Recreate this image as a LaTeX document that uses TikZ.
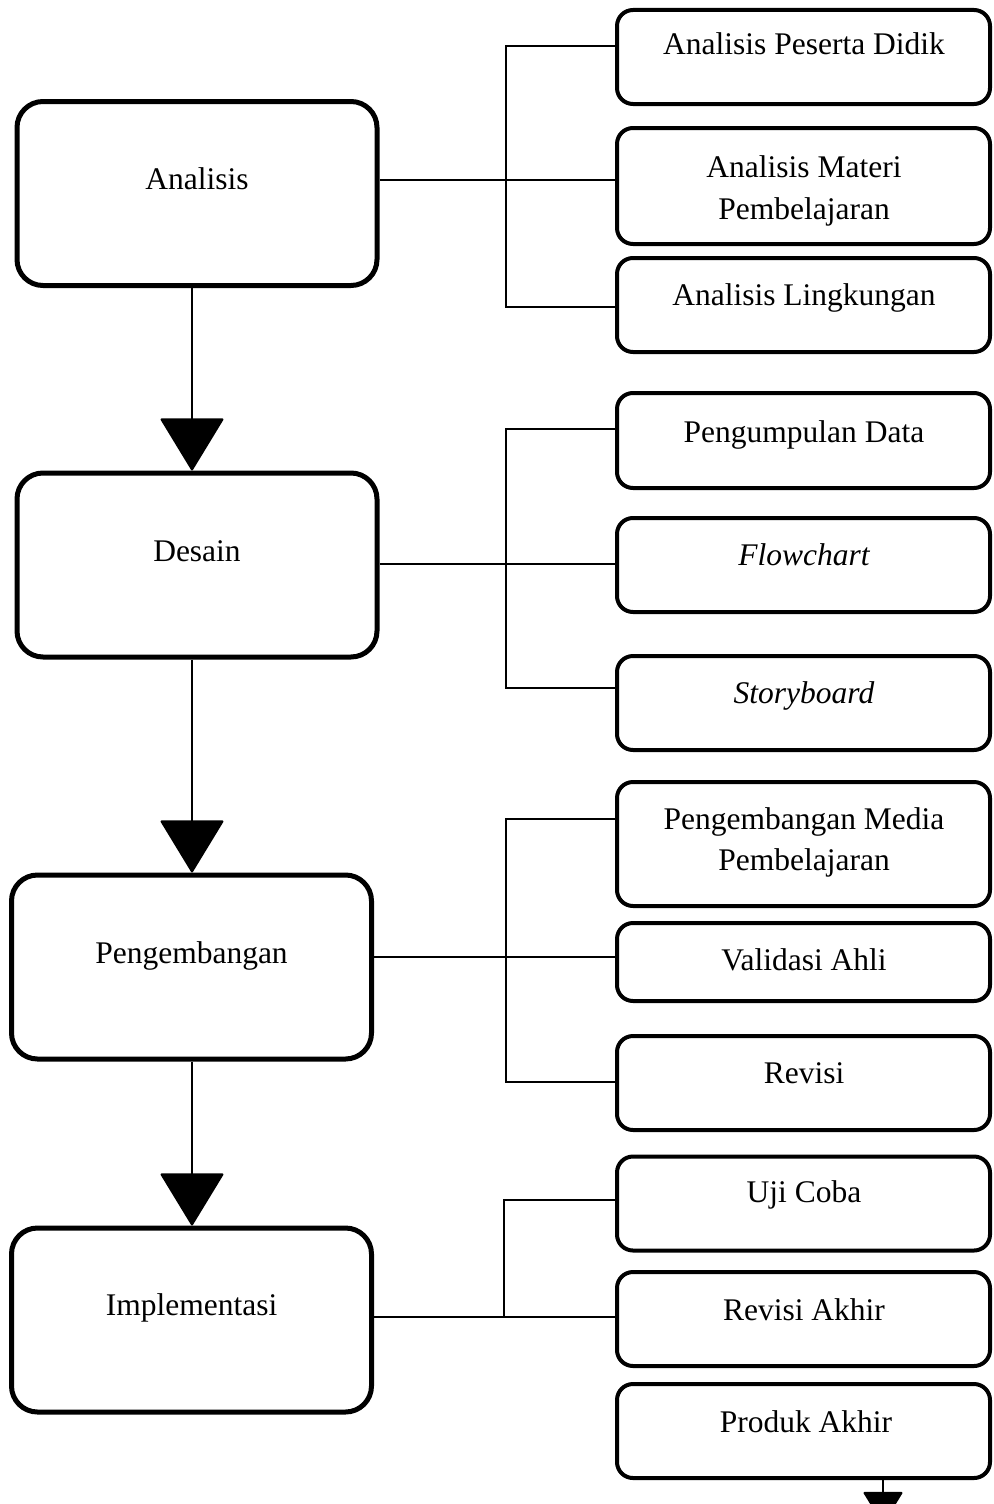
\documentclass[tikz,border=0pt]{standalone}
\usepackage{fontspec}
\setmainfont{Liberation Serif}
\usetikzlibrary{arrows.meta,positioning,calc}
\begin{document}
\begin{tikzpicture}[x=1pt,y=-1pt,
  mainbox/.style={draw, line width=5pt, rounded corners=26pt, minimum width=360pt, minimum height=184pt, inner sep=0pt},
  subbox/.style={draw, line width=4pt, rounded corners=16pt, minimum width=373pt, inner sep=0pt},
  lbl/.style={font=\fontsize{31.5}{42}\selectfont, anchor=base, align=center, inner sep=0pt},
  conn/.style={line width=2pt},
  flow/.style={line width=2pt, -{Triangle[width=64pt,length=53pt,round]}},
  flowsmall/.style={line width=2pt, -{Triangle[width=40pt,length=33pt,round]}}
]
\useasboundingbox (0,0) rectangle (993,1504);

% main boxes
\node[mainbox] (A) at (197,193.5) {};
\node[mainbox] (D) at (197,565) {};
\node[mainbox] (P) at (191.5,967) {};
\node[mainbox] (I) at (191.5,1320) {};
\node[lbl] (tA) at (197,189) {Analisis};
\node[lbl] (tD) at (197,561) {Desain};
\node[lbl] (tP) at (191.5,963) {Pengembangan};
\node[lbl] (tI) at (191.5,1315) {Implementasi};

% sub boxes
\node[subbox, minimum height=94pt]  (R1)  at (803.5,57) {};
\node[subbox, minimum height=116pt] (R2)  at (803.5,186) {};
\node[subbox, minimum height=94pt]  (R3)  at (803.5,305) {};
\node[subbox, minimum height=95pt]  (R4)  at (803.5,440.5) {};
\node[subbox, minimum height=94pt]  (R5)  at (803.5,565) {};
\node[subbox, minimum height=94pt]  (R6)  at (803.5,703) {};
\node[subbox, minimum height=124pt] (R7)  at (803.5,844) {};
\node[subbox, minimum height=78pt]  (R8)  at (803.5,962) {};
\node[subbox, minimum height=94pt]  (R9)  at (803.5,1083) {};
\node[subbox, minimum height=94pt]  (R10) at (803.5,1203.5) {};
\node[subbox, minimum height=94pt]  (R11) at (803.5,1319) {};
\node[subbox, minimum height=94pt]  (R12) at (803.5,1431) {};

\node[lbl] (t1)  at (804,55) {Analisis Peserta Didik};
\node[lbl] (t2)  at (804,219) {Analisis Materi\\Pembelajaran};
\node[lbl] (t3)  at (804,305) {Analisis Lingkungan};
\node[lbl] (t4)  at (804,442) {Pengumpulan Data};
\node[lbl] (t5)  at (804,565) {\itshape Flowchart};
\node[lbl] (t6)  at (804,703) {\itshape Storyboard};
\node[lbl, font=\fontsize{31.5}{41}\selectfont] (t7)  at (804,870) {Pengembangan Media\\Pembelajaran};
\node[lbl] (t8)  at (804,970) {Validasi Ahli};
\node[lbl] (t9)  at (804,1083) {Revisi};
\node[lbl] (t10) at (804,1202) {Uji Coba};
\node[lbl] (t11) at (804,1320) {Revisi Akhir};
\node[lbl] (t12) at (806,1432) {Produk Akhir};

% bracket coordinates
\coordinate (a0) at (506,180);
\coordinate (a1) at (506,46);
\coordinate (a3) at (506,307);
\coordinate (d0) at (506,564);
\coordinate (d1) at (506,429);
\coordinate (d3) at (506,688);
\coordinate (p0) at (506,957);
\coordinate (p1) at (506,819);
\coordinate (p3) at (506,1082);
\coordinate (i0) at (504,1317);
\coordinate (i1) at (504,1200);

% Analisis connectors
\draw[conn] (A.east |- a0) -- (R2.west |- a0);
\draw[conn] (R1.west |- a1) -- (a1) -- (a3) -- (R3.west |- a3);
% Desain connectors
\draw[conn] (D.east |- d0) -- (R5.west |- d0);
\draw[conn] (R4.west |- d1) -- (d1) -- (d3) -- (R6.west |- d3);
% Pengembangan connectors
\draw[conn] (P.east |- p0) -- (R8.west |- p0);
\draw[conn] (R7.west |- p1) -- (p1) -- (p3) -- (R9.west |- p3);
% Implementasi connectors
\draw[conn] (I.east |- i0) -- (R11.west |- i0);
\draw[conn] (R10.west |- i1) -- (i1) -- (i0);

% flow arrows
\draw[flow] ([xshift=-5pt]A.south) -- ([xshift=-5pt]A.south |- D.north);
\draw[flow] ([xshift=-5pt]D.south) -- ([xshift=-5pt]D.south |- P.north);
\draw[flow] ([xshift=0.5pt]P.south) -- ([xshift=0.5pt]P.south |- I.north);
\draw[flowsmall] ([xshift=79.5pt]R12.south) -- ++(0,44);
\end{tikzpicture}
\end{document}
